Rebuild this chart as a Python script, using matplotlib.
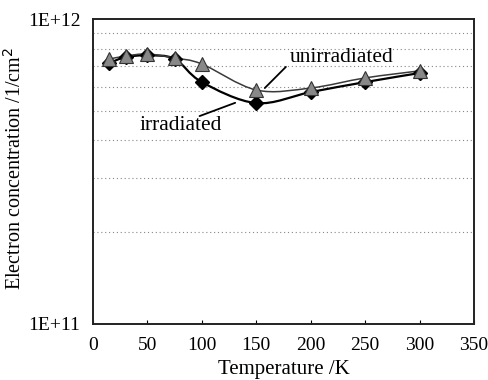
import numpy as np
import matplotlib
matplotlib.use("Agg")
import matplotlib.pyplot as plt
from matplotlib.path import Path
from matplotlib.patches import PathPatch

temperature = [15, 30, 50, 75, 100, 150, 200, 250, 300]
unirradiated = [7.39e11, 7.56e11, 7.68e11, 7.45e11, 7.12e11, 5.85e11, 5.94e11, 6.41e11, 6.76e11]
irradiated = [7.17e11, 7.50e11, 7.60e11, 7.40e11, 6.21e11, 5.30e11, 5.76e11, 6.21e11, 6.65e11]
x_ticks = [0, 50, 100, 150, 200, 250, 300, 350]
y_tick_labels = ["1E+11", "1E+12"]

plt.rcParams['font.family'] = ['Liberation Serif', 'DejaVu Serif']

fig = plt.figure(figsize=(4.88, 3.80), dpi=100)
ax = fig.add_axes([93/488, 1-324/380, (474-93)/488, (324-19)/380])
ax.set_yscale('log')
ax.set_xlim(0, 350)
ax.set_ylim(1e11, 1e12)


def smooth_path(xs, ys):
    xs = np.asarray(xs, float)
    ly = np.log10(np.asarray(ys, float))
    P = np.column_stack([xs / 350.0 * 381.0, (ly - 11.0) * 305.0])
    n = len(P)
    verts = [P[0]]
    codes = [Path.MOVETO]
    for i in range(n - 1):
        p0 = P[i - 1] if i > 0 else P[i]
        p1 = P[i]
        p2 = P[i + 1]
        p3 = P[i + 2] if i + 2 < n else P[i + 1]
        c1 = p1 + (p2 - p0) / 6.0
        c2 = p2 - (p3 - p1) / 6.0
        verts += [c1, c2, p2]
        codes += [Path.CURVE4] * 3
    V = np.array(verts)
    out = np.column_stack([V[:, 0] / 381.0 * 350.0, 10 ** (V[:, 1] / 305.0 + 11.0)])
    return Path(out, codes)


ax.add_patch(PathPatch(smooth_path(temperature, irradiated), fill=False,
                       edgecolor='black', lw=1.6, zorder=3))
ax.add_patch(PathPatch(smooth_path(temperature, unirradiated), fill=False,
                       edgecolor='#3a3a3a', lw=1.1, zorder=3))

ax.plot(temperature, irradiated, linestyle='none', marker='D', markersize=7.5,
        markerfacecolor='black', markeredgecolor='black', zorder=4)
ax.plot(temperature, unirradiated, linestyle='none', marker='^', markersize=10.5,
        markerfacecolor='#888888', markeredgecolor='#333333', markeredgewidth=0.8, zorder=5)

ax.yaxis.grid(True, which='minor', linestyle=(0, (1, 2.5)), color='#888888', lw=0.8)
ax.xaxis.grid(False)

ax.set_xticks(x_ticks)
ax.set_yticks([1e11, 1e12])
ax.set_yticklabels(y_tick_labels)
ax.yaxis.set_minor_formatter(matplotlib.ticker.NullFormatter())
ax.tick_params(axis='x', direction='in', length=3, width=0.8, labelsize=14, pad=9)
ax.tick_params(axis='y', which='both', length=0, labelsize=14, pad=9)

for s in ax.spines.values():
    s.set_linewidth(1.4)
    s.set_color('#222222')

ax.set_xlabel('Temperature /K', fontsize=15, labelpad=5)
ax.set_ylabel('Electron concentration /1/cm$^2$', fontsize=14.5)
ax.yaxis.set_label_coords(-0.176, 0.51)

ax.annotate('', xy=(156, 5.85e11), xytext=(179, 7.07e11),
            arrowprops=dict(arrowstyle='-', color='black', lw=1.3), zorder=6)
ax.text(228, 7.45e11, 'unirradiated', fontsize=15.5, ha='center', va='center', zorder=6)
ax.annotate('', xy=(133, 5.35e11), xytext=(95.5, 4.77e11),
            arrowprops=dict(arrowstyle='-', color='black', lw=1.3), zorder=6)
ax.text(81, 4.49e11, 'irradiated', fontsize=15.5, ha='center', va='center', zorder=6)

fig.savefig('out.png', dpi=100)
